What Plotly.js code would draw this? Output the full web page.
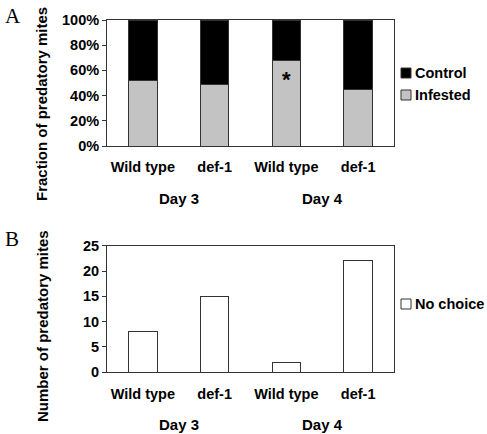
<!DOCTYPE html>
<html>
<head>
<meta charset="utf-8">
<script src="https://cdn.plot.ly/plotly-3.0.1.min.js"></script>
<style>html,body{margin:0;padding:0;background:#fff;}#chart{width:487px;height:434px;}</style>
</head>
<body>
<div id="chart"></div>
<script>
// ---- data ----
var days = ["Day 3", "Day 3", "Day 4", "Day 4"];
var genotypes = ["Wild type", "def-1", "Wild type", "def-1"];
var infestedPct = [52, 49, 68, 45];
var controlPct = [48, 51, 32, 55];
var noChoice = [8, 15, 2, 22];
var pctTicks = [0, 20, 40, 60, 80, 100];
var pctTickText = ["0%", "20%", "40%", "60%", "80%", "100%"];
var countTicks = [0, 5, 10, 15, 20, 25];

var FONT = "Liberation Sans, Arial, sans-serif";
var axisColor = "#333333";
var barLine = {color: "#333333", width: 1};

// unique category keys (day + genotype), labelled by genotype
var cats = days.map(function (d, i) { return d + "|" + genotypes[i]; });

var traces = [
  {type: "bar", x: cats, y: infestedPct, name: "Infested",
   marker: {color: "#c3c3c3", line: barLine}, xaxis: "x", yaxis: "y", width: 0.4},
  {type: "bar", x: cats, y: controlPct, name: "Control",
   marker: {color: "#000000", line: barLine}, xaxis: "x", yaxis: "y", width: 0.4},
  {type: "bar", x: cats, y: noChoice, name: "No choice",
   marker: {color: "#ffffff", line: barLine}, xaxis: "x2", yaxis: "y2", width: 0.4}
];

var tickFont = {family: FONT, size: 14.5, color: "#000", weight: 700};

function xax(anchor) {
  return {
    type: "category", anchor: anchor, domain: [107/487, 394/487],
    categoryorder: "array", categoryarray: cats,
    tickvals: cats, ticktext: genotypes,
    showline: true, linecolor: axisColor, linewidth: 1, mirror: true,
    ticks: "", tickfont: tickFont, automargin: false,
    ticklabelstandoff: 8, fixedrange: true
  };
}
function yax(anchor, dom, range, vals, text) {
  var a = {
    anchor: anchor, domain: dom, range: range, tickvals: vals,
    showline: true, linecolor: axisColor, linewidth: 1, mirror: true,
    ticks: "outside", ticklen: 4, tickcolor: axisColor, showgrid: false, zeroline: false,
    tickfont: tickFont, automargin: false, fixedrange: true
  };
  if (text) a.ticktext = text;
  return a;
}

// group (day) label annotations, centred on the mean index of each day's categories
var anns = [];
var uniqDays = days.filter(function (d, i) { return days.indexOf(d) === i; });
[["x", 1 - 198/434], ["x2", 1 - 424/434]].forEach(function (ax) {
  uniqDays.forEach(function (d) {
    var idx = [];
    days.forEach(function (dd, i) { if (dd === d) idx.push(i); });
    var c = idx.reduce(function (s, v) { return s + v; }, 0) / idx.length;
    anns.push({text: d, xref: ax[0], yref: "paper", x: c, y: ax[1],
               xanchor: "center", yanchor: "middle", showarrow: false,
               font: {family: FONT, size: 15, weight: 700}});
  });
});

// legend (Excel style: small swatch right next to the label), built from the traces
var shapes = [];
[[traces[1], 73], [traces[0], 95], [traces[2], 304]].forEach(function (e) {
  var t = e[0], yc = e[1];
  shapes.push({type: "rect", xref: "paper", yref: "paper",
               x0: 401/487, x1: 411/487, y0: 1 - (yc + 5)/434, y1: 1 - (yc - 5)/434,
               fillcolor: t.marker.color, line: {color: "#333333", width: 1}});
  anns.push({text: t.name, xref: "paper", yref: "paper", x: 413/487, y: 1 - yc/434,
             xanchor: "left", yanchor: "middle", showarrow: false,
             font: {family: FONT, size: 14.5, weight: 700}});
});

anns = anns.concat([
  {text: "A", xref: "paper", yref: "paper", x: 3/487, y: 1 - 2/434, xanchor: "left", yanchor: "top",
   showarrow: false, font: {family: "Liberation Serif, Times New Roman, serif", size: 21}},
  {text: "B", xref: "paper", yref: "paper", x: 3/487, y: 1 - 225/434, xanchor: "left", yanchor: "top",
   showarrow: false, font: {family: "Liberation Serif, Times New Roman, serif", size: 21}},
  {text: "Fraction of predatory mites", xref: "paper", yref: "paper", x: 42/487, y: 1 - 104/434,
   xanchor: "center", yanchor: "middle",
   textangle: -90, showarrow: false, font: {family: FONT, size: 15, weight: 700}},
  {text: "Number of predatory mites", xref: "paper", yref: "paper", x: 42/487, y: 1 - 326/434,
   xanchor: "center", yanchor: "middle",
   textangle: -90, showarrow: false, font: {family: FONT, size: 15, weight: 700}},
  {text: "*", xref: "x", yref: "y", x: 2, y: 53, showarrow: false,
   font: {family: FONT, size: 22, weight: 700}}
]);

var layout = {
  width: 487, height: 434,
  margin: {l: 0, r: 0, t: 0, b: 0},
  paper_bgcolor: "#fff", plot_bgcolor: "#fff",
  barmode: "stack",
  font: {family: FONT, color: "#000"},
  showlegend: false,
  xaxis: xax("y"),
  yaxis: yax("x", [1 - 146/434, 1 - 20/434], [0, 100], pctTicks, pctTickText),
  xaxis2: xax("y2"),
  yaxis2: yax("x2", [1 - 372.3/434, 1 - 245.7/434], [0, 25], countTicks, null),
  shapes: shapes,
  annotations: anns
};

Plotly.newPlot("chart", traces, layout, {displayModeBar: false, staticPlot: true});
</script>
</body>
</html>
